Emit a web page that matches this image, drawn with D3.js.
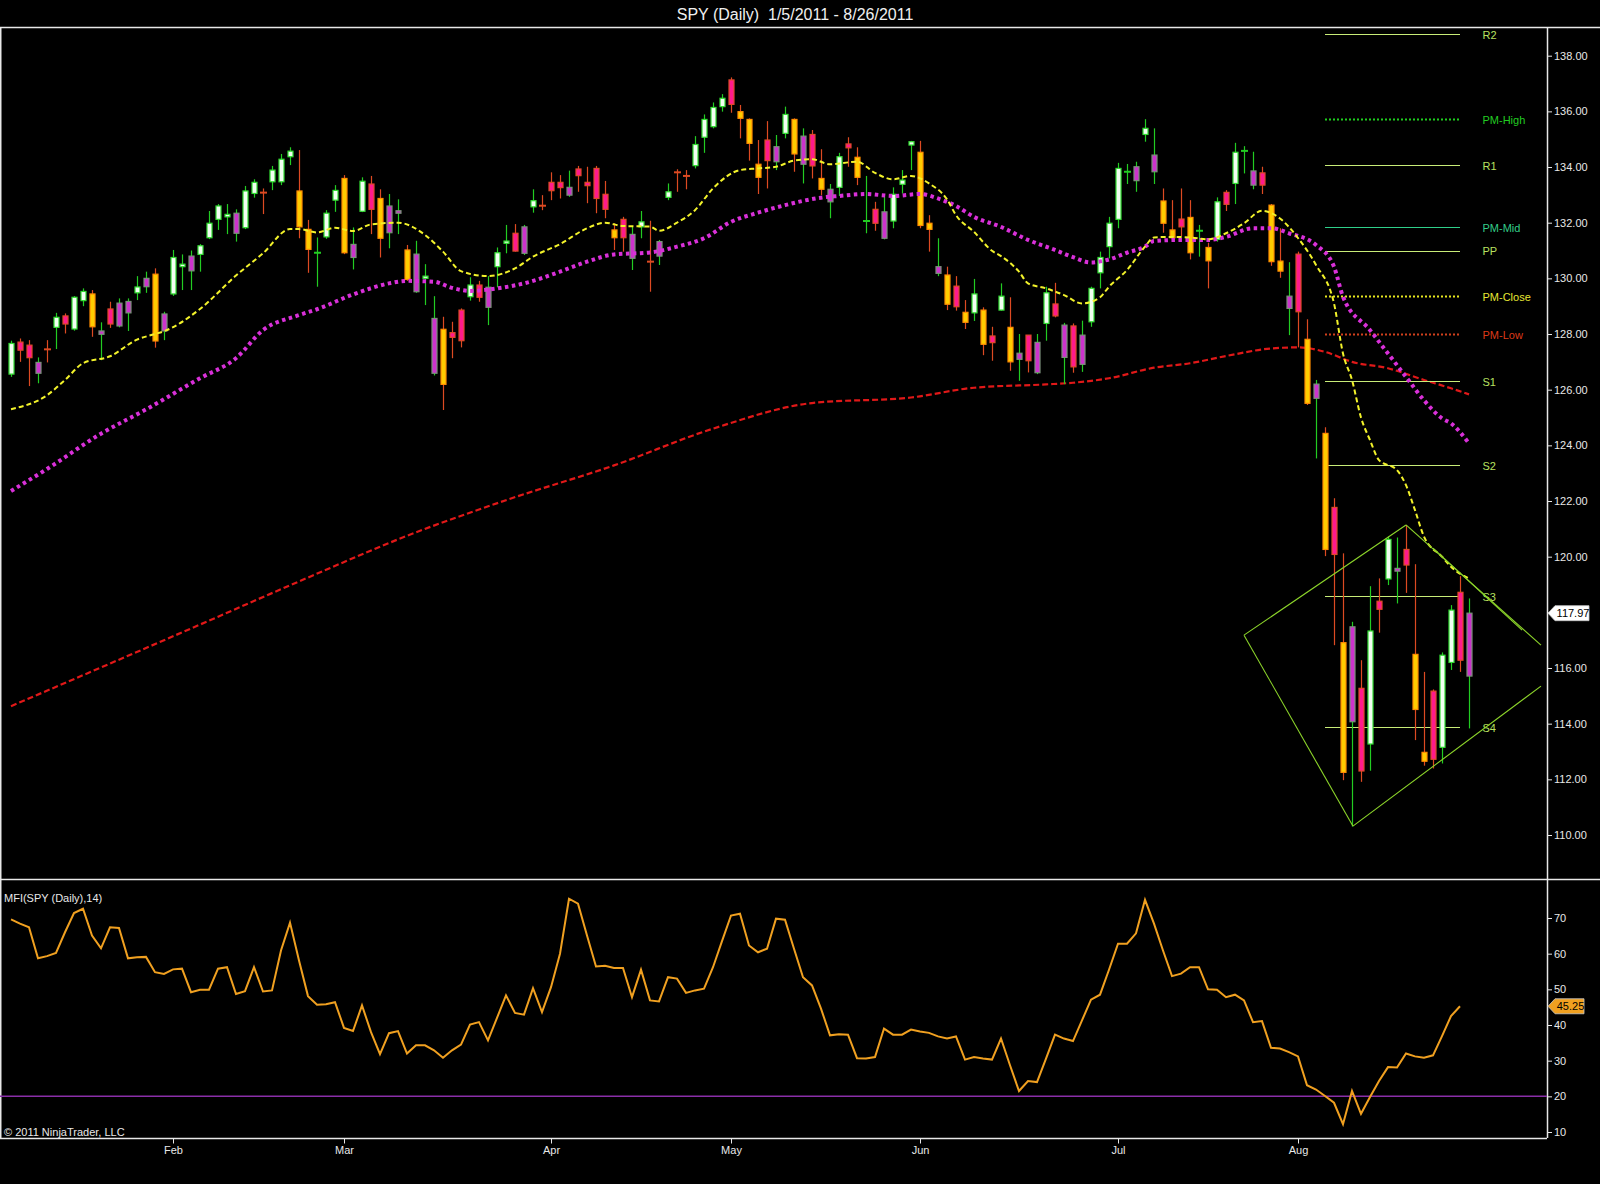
<!DOCTYPE html>
<html>
<head>
<meta charset="utf-8">
<script src="https://cdn.jsdelivr.net/npm/d3@7"></script>
<style>
  html, body { margin: 0; padding: 0; background: #000; }
  svg { display: block; font-family: "Liberation Sans", Arial, sans-serif; }
</style>
</head>
<body>
<div id="chart"></div>
<script>
// daily bars 1/5/2011 - 8/26/2011
var open = [126.56,127.71,127.60,126.59,127.47,128.24,128.65,128.18,129.20,129.44,
  127.99,128.90,128.29,128.76,129.48,129.70,130.15,128.11,129.44,130.42,
  130.27,130.86,131.46,132.12,132.21,131.62,131.82,133.05,133.10,133.47,
  133.47,134.37,133.14,131.76,130.90,131.49,132.81,133.59,130.75,132.41,
  133.39,132.87,131.64,132.34,131.02,129.52,130.00,126.59,128.17,128.05,
  128.86,129.34,129.76,128.96,130.42,131.26,131.62,130.90,132.57,132.63,
  133.45,133.45,132.99,133.93,133.45,133.95,133.02,131.74,132.12,130.72,
  131.85,130.62,130.80,132.91,133.83,133.70,134.05,135.07,135.45,136.17,
  137.13,135.99,135.71,134.10,134.97,134.19,135.21,135.71,134.10,135.17,
  133.59,132.75,133.27,134.83,134.35,132.04,132.48,131.44,132.06,133.38,
  134.79,134.53,131.98,130.18,130.12,129.72,128.78,128.76,128.86,127.93,
  128.86,128.24,127.09,127.96,126.61,128.38,129.08,127.16,128.29,126.91,
  128.44,130.20,131.14,132.12,133.81,133.51,135.17,133.83,132.78,131.74,
  132.13,132.19,131.69,131.11,131.40,133.09,133.41,134.56,133.35,133.79,
  132.63,130.62,128.92,130.87,127.81,125.69,124.43,121.77,116.91,114.07,
  115.27,113.27,118.40,119.20,119.48,120.26,116.49,112.97,115.17,113.15,
  116.20,118.72,115.71];
var high = [127.76,127.84,127.78,127.16,127.78,128.76,128.74,129.36,129.64,129.58,
  128.42,129.16,129.28,129.28,130.08,130.24,130.36,128.80,131.02,130.86,
  131.00,131.23,132.42,132.67,132.67,132.48,133.32,133.56,133.23,134.04,
  134.47,134.71,134.61,132.10,131.47,132.45,133.35,133.71,131.83,133.63,
  133.68,133.20,133.03,132.84,131.20,131.35,130.51,129.36,128.62,128.44,
  128.92,130.04,129.91,130.08,131.11,131.92,131.95,131.92,133.20,132.99,
  133.81,133.71,133.87,134.04,134.01,134.04,133.50,131.98,132.21,131.85,
  132.42,132.07,131.38,133.41,133.92,133.89,135.11,135.89,136.32,136.62,
  137.22,136.23,135.75,134.97,135.65,135.15,136.17,135.75,135.39,135.33,
  134.64,133.39,134.51,135.07,134.71,133.68,132.75,132.93,133.27,133.89,
  134.94,134.94,132.27,131.44,130.42,130.08,129.22,129.98,128.96,128.26,
  129.82,129.32,128.00,127.96,128.00,129.70,129.84,128.40,128.38,128.48,
  129.70,130.96,132.21,134.15,134.11,134.19,135.72,135.39,133.23,132.81,
  133.23,132.81,131.92,131.28,132.91,133.17,134.87,134.75,134.55,134.01,
  132.67,131.80,130.58,130.96,128.53,126.35,124.65,122.10,120.12,117.66,
  116.28,118.94,119.22,120.72,120.69,121.14,119.73,115.86,115.23,116.56,
  118.26,119.30,118.50];
var low = [126.46,127.00,126.13,126.23,126.98,127.46,128.02,128.12,129.00,127.90,
  127.06,128.22,128.24,128.11,129.22,129.48,127.51,127.78,129.37,129.58,
  129.58,130.24,131.41,131.74,131.59,131.32,131.77,132.90,132.31,133.17,
  133.35,134.07,131.44,130.20,129.70,131.42,132.39,130.87,130.32,132.38,
  131.59,130.75,131.08,131.59,129.91,129.48,129.04,126.51,125.27,127.13,
  127.52,129.20,129.16,128.32,129.68,130.90,130.96,130.84,132.36,132.45,
  132.81,132.87,132.93,133.11,132.70,132.34,132.16,131.02,130.96,130.30,
  131.44,129.52,130.48,132.81,133.11,133.20,133.95,134.51,135.39,135.99,
  135.95,135.03,134.23,133.03,133.23,133.89,135.03,133.83,133.41,133.59,
  132.99,132.16,132.96,134.01,133.35,131.62,131.71,131.40,131.80,133.05,
  133.89,131.80,130.96,130.08,128.86,128.84,128.18,128.47,127.24,127.04,
  128.84,126.68,126.32,126.62,126.56,127.76,128.60,126.20,126.61,126.64,
  128.26,129.64,130.72,131.80,133.39,133.11,134.91,133.39,131.64,131.40,
  131.52,130.68,130.78,129.64,131.32,132.42,132.67,133.77,133.20,133.03,
  130.45,130.02,127.96,127.52,125.45,123.53,120.02,116.82,111.97,110.30,
  111.91,112.31,117.27,118.98,118.32,118.70,113.41,112.49,112.39,112.57,
  115.93,115.86,113.83];
var close = [127.66,127.42,127.15,126.98,127.43,128.60,128.36,129.32,129.53,128.26,
  128.11,128.36,129.11,129.17,129.69,130.00,127.75,128.72,130.75,130.51,
  130.80,131.17,131.98,132.60,132.30,132.34,133.14,133.45,133.06,133.89,
  134.28,134.57,131.85,131.04,130.94,132.34,133.16,130.92,131.22,133.49,
  132.48,131.44,132.60,132.43,129.96,130.87,130.08,128.56,126.19,127.88,
  127.76,129.76,129.32,129.68,130.92,131.34,130.98,131.85,132.79,132.59,
  133.15,133.26,133.27,133.69,133.33,132.87,132.48,131.46,131.46,131.58,
  132.03,130.58,131.32,133.11,133.79,133.66,134.81,135.71,136.14,136.47,
  136.25,135.75,134.85,133.63,134.23,134.73,135.89,134.47,135.11,134.04,
  133.20,133.20,134.37,134.69,133.63,132.08,131.98,132.39,133.02,133.53,
  134.91,131.90,131.76,130.42,129.07,128.98,128.42,129.44,127.63,127.69,
  129.36,127.00,127.31,127.04,127.70,129.48,128.65,128.32,126.82,127.96,
  129.64,130.75,131.98,133.95,133.85,134.01,135.39,134.43,131.98,131.46,
  131.85,130.92,131.73,130.63,132.75,132.66,134.53,134.60,133.86,133.35,
  130.60,130.26,129.36,128.80,125.51,126.20,120.26,120.08,112.25,117.48,
  112.30,117.33,118.11,120.62,119.58,119.70,114.51,112.65,112.72,116.46,
  118.08,116.28,117.97];
// 1 = volume above the prior bar (hollow white / gold bars), 0 = below (violet / pink)
var volUp = [1,0,0,0,0,1,0,1,1,1, 0,0,0,0,1,0,1,0,1,1, 0,1,1,1,1,0,1,1,0,1,
  1,1,1,1,1,1,1,1,0,1, 0,1,0,0,1,0,1,0,1,0, 0,1,0,0,1,1,0,0,1,0,
  0,0,0,0,0,0,0,1,0,0, 1,0,0,1,0,0,1,1,1,1, 0,1,1,1,0,0,1,1,0,0,
  1,0,1,0,1,1,0,0,1,1, 1,1,1,0,1,0,1,1,1,0, 1,1,0,0,0,1,0,0,0,0,
  1,1,1,1,1,0,1,0,1,1, 0,1,1,1,1,0,1,1,0,0, 1,1,0,0,1,0,1,0,1,0,
  0,1,0,1,0,0,1,1,0,1, 1,0,0];

// moving averages, [bar, value] read at sample bars
var ma10 = [[0,125.3],[4,125.8],[6,126.35],[8,126.95],[11,127.2],[14,127.8],[16,128.0],[17,128.1],
  [21,128.9],[25,130.1],[28,130.9],[31,131.77],[32,131.77],[34,131.65],[36,131.82],[38,131.7],
  [40,131.94],[43,132.0],[46,131.56],[48,130.96],[50,130.26],[53,130.08],[56,130.36],[58,130.78],
  [61,131.23],[64,131.8],[66,132.0],[68,131.88],[71,131.86],[72,131.71],[74,132.0],[76,132.45],
  [78,133.23],[81,133.89],[83,133.95],[85,134.01],[87,134.23],[89,134.28],[91,134.1],[94,134.19],
  [96,133.79],[98,133.56],[100,133.68],[102,133.41],[104,132.84],[105,132.27],[107,131.67],
  [109,130.99],[110,130.8],[112,130.24],[113,129.82],[115,129.64],[117,129.4],[119,129.1],
  [121,129.32],[122,129.7],[124,130.3],[126,131.14],[127,131.47],[129,131.49],[131,131.47],
  [133,131.4],[135,131.62],[137,131.98],[139,132.43],[141,132.15],[143,131.45],[145,130.48],
  [147,129.1],[148,127.3],[149,126.35],[150,125.0],[151,124.19],[152,123.47],[154,123.11],
  [155,122.57],[156,121.67],[157,120.72],[159,120.0],[160,119.64],[162,119.22]];
var ma20 = [[0,122.36],[4,123.15],[10,124.42],[15,125.29],[21,126.41],[25,127.13],[28,128.14],
  [32,128.68],[34,128.89],[38,129.42],[42,129.82],[44,129.91],[47,129.88],[49,129.66],[51,129.55],
  [54,129.64],[57,129.82],[61,130.24],[64,130.6],[67,130.86],[71,130.93],[74,131.14],[77,131.44],
  [80,132.03],[83,132.36],[86,132.63],[90,132.9],[92,132.96],[95,133.03],[98,132.96],[101,133.03],
  [103,132.87],[105,132.6],[107,132.21],[110,131.85],[113,131.38],[116,131.02],[118,130.76],
  [120,130.57],[122,130.68],[124,130.92],[126,131.14],[127,131.34],[130,131.38],[133,131.38],
  [135,131.49],[138,131.8],[140,131.8],[142,131.62],[145,131.2],[147,130.42],[148,129.34],
  [151,128.14],[153,127.3],[155,126.46],[157,125.62],[159,124.97],[160,124.79],[162,124.07]];
var ma200 = [[0,114.63],[10,116.02],[21,117.56],[33,119.25],[44,120.75],[55,122.03],[67,123.28],
  [78,124.6],[89,125.52],[100,125.72],[107,126.07],[115,126.19],[118,126.25],[122,126.41],
  [127,126.79],[131,126.95],[135,127.21],[140,127.48],[143,127.52],[146,127.36],[149,127.0],
  [153,126.77],[157,126.35],[160,126.05],[162,125.83]];

// MFI(14), no value on the last bar
var mfi = [69.6,68.4,67.4,58.7,59.3,60.2,66.0,71.4,72.6,65.1,
  61.5,67.4,67.2,58.7,59.0,59.1,54.8,54.3,55.6,55.8,
  49.2,49.9,49.9,55.8,56.2,48.7,49.5,56.2,49.4,49.7,
  60.9,68.7,58.1,48.1,45.7,45.8,46.4,39.2,38.3,45.5,
  38.0,31.8,37.7,38.3,32.0,34.3,34.3,32.9,30.8,32.9,
  34.5,40.1,40.8,35.7,42.0,48.3,43.4,42.9,50.3,43.6,
  50.6,60.0,75.4,74.0,65.1,56.4,56.6,56.0,56.0,47.8,
  55.5,46.9,46.6,53.4,53.0,49.0,49.7,50.2,56.2,63.5,
  70.7,71.2,62.3,60.4,61.4,69.8,69.5,61.4,53.4,51.1,
  44.6,37.1,37.4,37.3,30.7,30.6,31.0,39.0,37.3,37.3,
  38.7,38.2,37.8,36.8,36.2,36.8,30.3,31.0,30.6,30.3,
  36.2,28.7,21.5,24.3,24.0,30.6,37.3,36.2,35.5,41.3,
  47.1,48.5,55.5,62.8,62.8,65.7,75.1,68.4,60.9,53.7,
  54.4,56.2,56.2,50.0,49.9,47.8,48.5,46.9,40.8,41.1,
  33.6,33.4,32.4,31.2,23.1,21.9,20.1,18.2,12.2,21.5,
  15.1,19.8,24.3,28.2,28.1,32.0,31.2,30.8,31.5,36.9,
  42.5,45.25];
var mfiLevel = 20;

// pivot levels for the current month
var pivotNames = ["R2","PM-High","R1","PM-Mid","PP","PM-Close","PM-Low","S1","S2","S3","S4"];
var pivotValues = [138.78,135.72,134.06,131.85,131.0,129.35,127.99,126.31,123.28,118.57,113.87];
var pivotFrom = 146, pivotTo = 161;

// hand-drawn diamond, [bar, price] end points
var drawLines = [
  [[137,117.18],[155,121.14]],
  [[137,117.18],[149.1,110.32]],
  [[149.1,110.32],[170,115.35]],
  [[155,121.14],[170,116.82]],
  [[158,120.31],[167.9,117.36]]
];

var monthTicks = [18,37,60,80,101,123,143];
var monthNames = ["Feb","Mar","Apr","May","Jun","Jul","Aug"];
var priceTicks = d3.range(110, 139, 2);
var mfiTicks = [10,20,30,40,50,60,70];
var title = "SPY (Daily)  1/5/2011 - 8/26/2011";

var W = 1600, H = 1184;
var axisX = 1547, top1 = 27, sep = 879, bot2 = 1138;

var svg = d3.select("#chart").append("svg")
  .attr("width", W).attr("height", H)
  .style("background", "#000");

var x = d3.scaleLinear().domain([0, 162]).range([11, 1469]);
var y = d3.scaleLinear().domain([110, 138]).range([835, 55.7]);
var ym = d3.scaleLinear().domain([10, 70]).range([1132, 918]);

var defs = svg.append("defs");
defs.append("clipPath").attr("id", "clipP").append("rect")
  .attr("x", 0).attr("y", top1 + 4).attr("width", axisX).attr("height", sep - top1 - 4);
defs.append("clipPath").attr("id", "clipM").append("rect")
  .attr("x", 0).attr("y", sep).attr("width", axisX).attr("height", bot2 - sep);

// title
svg.append("text")
  .attr("x", 795).attr("y", 19.5)
  .attr("text-anchor", "middle")
  .style("white-space", "pre")
  .style("font-size", "16px")
  .style("fill", "#f0f0f0")
  .text(title);

// frame
var frame = svg.append("g").style("stroke", "#e8e8e8").style("stroke-width", 1.5);
frame.append("line").attr("x1", 0).attr("x2", W).attr("y1", top1 + 0.5).attr("y2", top1 + 0.5);
frame.append("line").attr("x1", 0).attr("x2", W).attr("y1", sep + 0.5).attr("y2", sep + 0.5);
frame.append("line").attr("x1", 0).attr("x2", axisX).attr("y1", bot2 + 0.5).attr("y2", bot2 + 0.5);
frame.append("line").attr("x1", axisX + 0.5).attr("x2", axisX + 0.5).attr("y1", top1).attr("y2", bot2);
frame.append("line").attr("x1", 0.75).attr("x2", 0.75).attr("y1", top1).attr("y2", bot2);

// price axis
var yAxis = d3.axisRight(y).tickValues(priceTicks).tickFormat(d3.format(".2f")).tickSize(5).tickPadding(2);
var gy = svg.append("g").attr("transform", "translate(" + axisX + ",0)").call(yAxis);
gy.select(".domain").remove();
gy.selectAll("line").style("stroke", "#e8e8e8");
gy.selectAll("text").style("fill", "#e8e8e8").style("font-size", "11px");

var mAxis = d3.axisRight(ym).tickValues(mfiTicks).tickSize(5).tickPadding(2);
var gm = svg.append("g").attr("transform", "translate(" + axisX + ",0)").call(mAxis);
gm.select(".domain").remove();
gm.selectAll("line").style("stroke", "#e8e8e8");
gm.selectAll("text").style("fill", "#e8e8e8").style("font-size", "11px");

var xAxis = d3.axisBottom(x).tickValues(monthTicks).tickFormat(function (d, i) { return monthNames[i]; }).tickSize(5).tickPadding(3);
var gx = svg.append("g").attr("transform", "translate(0," + (bot2 + 0.5) + ")").call(xAxis);
gx.select(".domain").remove();
gx.selectAll("line").style("stroke", "#e8e8e8");
gx.selectAll("text").style("fill", "#e8e8e8").style("font-size", "11px");

// price panel
var pp = svg.append("g").attr("clip-path", "url(#clipP)");

var line = d3.line().x(function (d) { return x(d[0]); }).y(function (d) { return y(d[1]); }).curve(d3.curveMonotoneX);

pp.append("path").datum(ma200).attr("d", line)
  .style("fill", "none").style("stroke", "#e01818").style("stroke-width", 2.2)
  .style("stroke-dasharray", "6,3");

// pivot lines
var pivStyle = {
  "PM-High": { c: "#1ecf1e", t: "#22cc22", dash: "2,2" },
  "PM-Mid": { c: "#2fcf8a", t: "#33cc88", dash: null },
  "PM-Close": { c: "#e6e61e", t: "#e6e633", dash: "2,2" },
  "PM-Low": { c: "#d2401c", t: "#dd3a18", dash: "2,2" }
};
var defStyle = { c: "#c8ec78", t: "#b8e060", dash: null };
var piv = pp.selectAll("g.piv").data(pivotNames).enter().append("g").attr("class", "piv");
piv.append("line")
  .attr("x1", x(pivotFrom)).attr("x2", x(pivotTo))
  .attr("y1", function (d, i) { return Math.round(y(pivotValues[i])) + 0.5; })
  .attr("y2", function (d, i) { return Math.round(y(pivotValues[i])) + 0.5; })
  .style("stroke", function (d) { return (pivStyle[d] || defStyle).c; })
  .style("stroke-width", function (d) { return pivStyle[d] && pivStyle[d].dash ? 2 : 1; })
  .style("stroke-dasharray", function (d) { return (pivStyle[d] || defStyle).dash; });
piv.append("text")
  .attr("x", x(163.5))
  .attr("y", function (d, i) { return y(pivotValues[i]) + 1; })
  .attr("dy", "0.35em")
  .style("font-size", "11px")
  .style("fill", function (d) { return (pivStyle[d] || defStyle).t; })
  .text(function (d) { return d; });

// candles
var bars = d3.range(close.length);
var upC = function (i) { return close[i] >= open[i]; };
var wickColor = function (i) { return upC(i) ? "#22cc22" : "#dd4a22"; };
var bodyFill = function (i) {
  if (upC(i)) return volUp[i] ? "#f2fff2" : "#cc33cc";
  return volUp[i] ? "#ffcc00" : "#ff1a8c";
};
var bodyStroke = function (i) {
  if (upC(i)) return volUp[i] ? "#33dd33" : "#7a907a";
  return volUp[i] ? "#ff8c00" : "#e04a28";
};

var cg = pp.append("g");
cg.selectAll("line.wick").data(bars).enter().append("line")
  .attr("class", "wick")
  .attr("x1", function (i) { return Math.round(x(i)) + 0.5; })
  .attr("x2", function (i) { return Math.round(x(i)) + 0.5; })
  .attr("y1", function (i) { return y(high[i]); })
  .attr("y2", function (i) { return y(low[i]); })
  .style("stroke", wickColor).style("stroke-width", 1.2);

var bodyH = function (i) { return Math.abs(y(open[i]) - y(close[i])); };
cg.selectAll("rect.body").data(bars.filter(function (i) { return bodyH(i) >= 2; })).enter().append("rect")
  .attr("class", "body")
  .attr("x", function (i) { return Math.round(x(i)) - 2; })
  .attr("width", 5)
  .attr("y", function (i) { return y(Math.max(open[i], close[i])); })
  .attr("height", bodyH)
  .style("fill", bodyFill).style("stroke", bodyStroke).style("stroke-width", 1.2);
cg.selectAll("line.doji").data(bars.filter(function (i) { return bodyH(i) < 2; })).enter().append("line")
  .attr("class", "doji")
  .attr("x1", function (i) { return Math.round(x(i)) - 3; })
  .attr("x2", function (i) { return Math.round(x(i)) + 4; })
  .attr("y1", function (i) { return y((open[i] + close[i]) / 2); })
  .attr("y2", function (i) { return y((open[i] + close[i]) / 2); })
  .style("stroke", wickColor).style("stroke-width", 2);

// short MAs on top of the bars
pp.append("path").datum(ma20).attr("d", line)
  .style("fill", "none").style("stroke", "#d930d9").style("stroke-width", 4)
  .style("stroke-dasharray", "3.5,3.5");
pp.append("path").datum(ma10).attr("d", line)
  .style("fill", "none").style("stroke", "#f2f22a").style("stroke-width", 2)
  .style("stroke-dasharray", "5,3");

// drawn lines
pp.selectAll("line.draw").data(drawLines).enter().append("line")
  .attr("class", "draw")
  .attr("x1", function (d) { return x(d[0][0]); })
  .attr("y1", function (d) { return y(d[0][1]); })
  .attr("x2", function (d) { return x(d[1][0]); })
  .attr("y2", function (d) { return y(d[1][1]); })
  .style("stroke", "#8cd42a").style("stroke-width", 1.1);

// MFI panel
var mp = svg.append("g").attr("clip-path", "url(#clipM)");
mp.append("line")
  .attr("x1", 0).attr("x2", axisX)
  .attr("y1", ym(mfiLevel)).attr("y2", ym(mfiLevel))
  .style("stroke", "#8a2fa8").style("stroke-width", 1.5);
var mline = d3.line().x(function (d, i) { return x(i); }).y(function (d) { return ym(d); });
mp.append("path").datum(mfi).attr("d", mline)
  .style("fill", "none").style("stroke", "#f0a020").style("stroke-width", 2);

svg.append("text").attr("x", 4).attr("y", 902)
  .style("font-size", "11px").style("fill", "#e8e8e8")
  .text("MFI(SPY (Daily),14)");
svg.append("text").attr("x", 4).attr("y", 1136)
  .style("font-size", "11px").style("fill", "#e8e8e8")
  .text("\u00a9 2011 NinjaTrader, LLC");

// last value badges
function badge(yy, txt, fill, w) {
  var g = svg.append("g").attr("transform", "translate(" + (axisX + 1) + "," + yy + ")");
  g.append("path")
    .attr("d", "M0,0 L7,-7.5 L" + w + ",-7.5 L" + w + ",7.5 L7,7.5 Z")
    .style("fill", fill).style("stroke", "#c8c8c8").style("stroke-width", 0.8);
  g.append("text").attr("x", (w + 7) / 2 + 1).attr("dy", "0.35em")
    .attr("text-anchor", "middle")
    .style("font-size", "11px").style("fill", "#000")
    .text(txt);
}
badge(y(close[close.length - 1]), d3.format(".2f")(close[close.length - 1]), "#ffffff", 41);
badge(ym(mfi[mfi.length - 1]), d3.format(".2f")(mfi[mfi.length - 1]), "#f0a020", 36);
</script>
</body>
</html>
